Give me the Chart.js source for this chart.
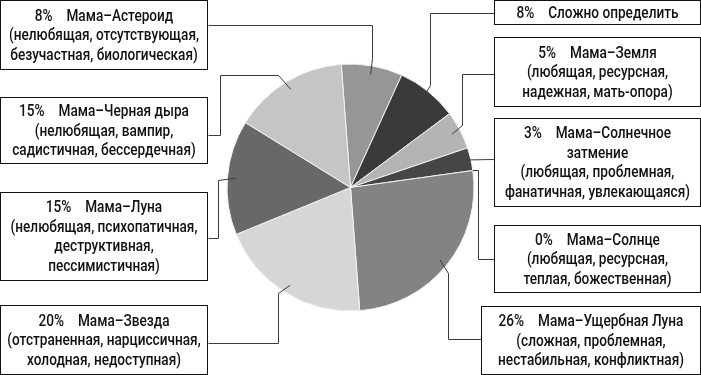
<!DOCTYPE html>
<html>
<head>
<meta charset="utf-8">
<script src="https://cdn.jsdelivr.net/npm/chart.js@4.4.0/dist/chart.umd.min.js"></script>
<style>
  body { margin: 0; background: #fff; }
  #wrap { width: 701px; height: 375px; }
</style>
</head>
<body>
<div id="wrap"><canvas id="pieChart" width="701" height="375"></canvas></div>
<script>
// Данные диаграммы (по часовой стрелке, начиная сверху)
const labels = ['Мама–Астероид', 'Сложно определить', 'Мама–Земля', 'Мама–Солнечное затмение',
  'Мама–Солнце', 'Мама–Ущербная Луна', 'Мама–Звезда', 'Мама–Луна', 'Мама–Черная дыра'];
const values = [8, 8, 5, 3, 0, 26, 20, 15, 15];
const sliceColors = ['#969696', '#3a3a3a', '#b4b4b4', '#464646', '#9a9a9a',
  '#838383', '#d6d6d6', '#686868', '#c5c5c5'];

// Текст подписей: заголовок (может переноситься) и описание
const titleLines = [
  ['Мама–Астероид'],
  ['Сложно определить'],
  ['Мама–Земля'],
  ['Мама–Солнечное', 'затмение'],
  ['Мама–Солнце'],
  ['Мама–Ущербная Луна'],
  ['Мама–Звезда'],
  ['Мама–Луна'],
  ['Мама–Черная дыра']
];
const descLines = [
  ['(нелюбящая, отсутствующая,', 'безучастная, биологическая)'],
  [],
  ['(любящая, ресурсная,', 'надежная, мать-опора)'],
  ['(любящая, проблемная,', 'фанатичная, увлекающаяся)'],
  ['(любящая, ресурсная,', 'теплая, божественная)'],
  ['(сложная, проблемная,', 'нестабильная, конфликтная)'],
  ['(отстраненная, нарциссичная,', 'холодная, недоступная)'],
  ['(нелюбящая, психопатичная,', 'деструктивная,', 'пессимистичная)'],
  ['(нелюбящая, вампир,', 'садистичная, бессердечная)']
];

// Положение рамок подписей: [x, y, ширина, высота]
const boxes = [
  [0.5, 0.5, 207, 69],
  [494.5, 0.5, 206, 24],
  [494.5, 37.5, 206, 69],
  [494.5, 118.5, 206, 88],
  [494.5, 225.5, 206, 67],
  [481.5, 306.5, 219, 68],
  [0.5, 305.5, 207, 69],
  [0.5, 192.5, 207, 88],
  [0.5, 97.5, 207, 66]
];

// Изломы выносных линий (от точки на секторе к рамке)
const routes = [
  [[372, 58], [372, 25], [208, 25]],
  [[430, 85], [430, 13], [494, 13]],
  [[462, 125], [462, 74], [495, 74]],
  [[494, 159]],
  [[478, 170], [478, 259], [494, 259]],
  [[448, 273], [448, 339], [482, 339]],
  [[278, 293], [278, 343], [208, 343]],
  [[218, 180], [218, 238], [208, 238]],
  [[278, 75], [220, 75], [220, 135], [208, 135]]
];

const FONT = '500 16px Roboto, "Noto Sans", sans-serif';
// ширина эталонной строки в оригинале (узкий шрифт)
const REF_LINE = '(нелюбящая, отсутствующая,';
const REF_WIDTH = 190;

// Плагин для выносок и подписей
const calloutPlugin = {
  id: 'callouts',
  afterDraw(chart) {
    const ctx = chart.ctx;
    const arcs = chart.getDatasetMeta(0).data;
    ctx.save();

    // линии
    ctx.strokeStyle = '#3a3a3a';
    ctx.lineWidth = 1;
    arcs.forEach((arc, i) => {
      const p = arc.getProps(['x', 'y', 'startAngle', 'endAngle', 'outerRadius'], true);
      const mid = (p.startAngle + p.endAngle) / 2;
      const k = values[i] === 0 ? 1.0 : (values[i] < 4 ? 0.97 : 0.93);
      const ax = p.x + Math.cos(mid) * p.outerRadius * k;
      const ay = p.y + Math.sin(mid) * p.outerRadius * k;
      ctx.beginPath();
      ctx.moveTo(ax, ay);
      routes[i].forEach(pt => ctx.lineTo(Math.round(pt[0]) + 0.5, Math.round(pt[1]) + 0.5));
      ctx.stroke();
    });

    // рамки и текст
    ctx.font = FONT;
    const sx = REF_WIDTH / ctx.measureText(REF_LINE).width;
    ctx.textAlign = 'center';
    ctx.textBaseline = 'middle';
    const lh = 19.5;
    boxes.forEach((b, i) => {
      const [x, y, w, h] = b;
      ctx.fillStyle = '#fff';
      ctx.fillRect(x, y, w, h);
      ctx.strokeStyle = '#111';
      ctx.strokeRect(x, y, w, h);

      const lines = titleLines[i].slice();
      lines[0] = values[i] + '%\u2003' + lines[0];
      const all = lines.concat(descLines[i]);
      const cx = x + w / 2;
      const startY = y + h / 2 - (all.length - 1) * lh / 2 + 1;
      ctx.fillStyle = '#111';
      all.forEach((t, j) => {
        ctx.save();
        ctx.translate(cx, startY + j * lh);
        ctx.scale(sx, 1);
        ctx.fillText(t, 0, 0);
        ctx.restore();
      });
    });
    ctx.restore();
  }
};

const ctx = document.getElementById('pieChart').getContext('2d');
const pieChart = new Chart(ctx, {
  type: 'pie',
  data: {
    labels: labels,
    datasets: [{
      data: values,
      backgroundColor: sliceColors,
      borderColor: '#f2f2f2',
      borderWidth: 1
    }]
  },
  options: {
    responsive: false,
    animation: false,
    rotation: -4.3,
    layout: { padding: { top: 63.5, bottom: 63.5, left: 0, right: 0 } },
    plugins: {
      legend: { display: false },
      tooltip: { enabled: false }
    }
  },
  plugins: [calloutPlugin]
});
</script>
</body>
</html>
